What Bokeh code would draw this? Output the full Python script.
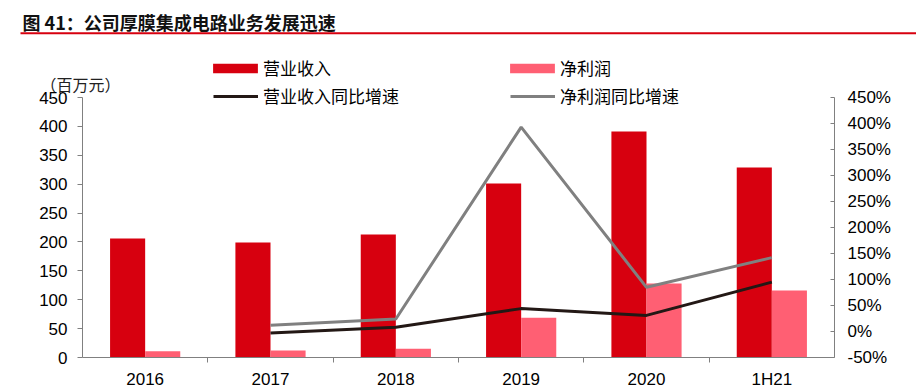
import numpy as np
from bokeh.plotting import figure
from bokeh.models import (Range1d, LinearAxis, FixedTicker, PrintfTickFormatter,
                          Legend, LegendItem, ColumnDataSource)
from bokeh.transform import dodge
from bokeh.embed import file_html
from bokeh.resources import INLINE
from bokeh.core.properties import value

# ---------------- data ----------------
categories = ["2016", "2017", "2018", "2019", "2020", "1H21"]
revenue = [206, 199, 213, 301, 391, 329]          # 营业收入 (百万元)
net_profit = [11, 12, 15, 69, 128, 116]           # 净利润 (百万元)
revenue_yoy = [np.nan, -3, 8, 44, 31, 95]         # 营业收入同比增速 (%)
profit_yoy = [np.nan, 12, 24, 393, 85, 142]       # 净利润同比增速 (%)
left_ticks = [0, 50, 100, 150, 200, 250, 300, 350, 400, 450]
right_ticks = [-50, 0, 50, 100, 150, 200, 250, 300, 350, 400, 450]
title_text = "图 41：公司厚膜集成电路业务发展迅速"
unit_text = "（百万元）"
legend_labels = ["营业收入", "净利润", "营业收入同比增速", "净利润同比增速"]

# ---------------- styling / layout (pixels on the canvas) ----------------
RED = "#D7000F"
PINK = "#FF5F73"
BLACK = "#231815"
GRAY = "#808080"
AXIS = "#808080"
W, H = 916, 392
PL, PR = 82, 834          # plot area left / right (canvas px)
PT, PB = 97, 357          # plot area top / bottom (canvas px)
L_MIN, L_MAX = 0, 450
R_MIN, R_MAX = -50, 450
n = len(categories)

kx = (PR - PL) / n
ky = (PB - PT) / (L_MAX - L_MIN)
kr = (PB - PT) / (R_MAX - R_MIN)
x_range = Range1d(-PL / kx, n + (W - PR) / kx)
y_range = Range1d(L_MIN - (H - PB) / ky, L_MAX + PT / ky)
r_range = Range1d(R_MIN - (H - PB) / kr, R_MAX + PT / kr)


def X(px):
    return x_range.start + px / kx


def Y(py):
    return y_range.end - py / ky


p = figure(width=W, height=H, x_range=x_range, y_range=y_range,
           output_backend="svg", toolbar_location=None, min_border=0,
           x_axis_location=None, y_axis_location=None)
p.extra_y_ranges = {"pct": r_range}
p.grid.visible = False
p.outline_line_color = None

xc = np.arange(n) + 0.5
src = ColumnDataSource(dict(x=xc, cat=categories, rev=revenue, np_=net_profit,
                            ry=revenue_yoy, py=profit_yoy))

r_rev = p.vbar(x=dodge("x", -0.14), top="rev", width=0.28, source=src,
               fill_color=RED, line_color=None)
r_np = p.vbar(x=dodge("x", 0.14), top="np_", width=0.28, source=src,
              fill_color=PINK, line_color=None)
r_ry = p.line(x="x", y="ry", source=src, y_range_name="pct", line_color=BLACK, line_width=3)
r_py = p.line(x="x", y="py", source=src, y_range_name="pct", line_color=GRAY, line_width=3)

font_num = "Liberation Sans"
left = LinearAxis(ticker=FixedTicker(ticks=left_ticks), fixed_location=0, bounds=(L_MIN, L_MAX),
                  axis_line_color=AXIS, major_tick_line_color=AXIS, major_tick_out=5,
                  major_tick_in=0, minor_tick_line_color=None, major_label_standoff=10,
                  major_label_text_font=font_num, major_label_text_font_size="17px",
                  major_label_text_color="#000000")
p.add_layout(left, "left")

right = LinearAxis(y_range_name="pct", ticker=FixedTicker(ticks=right_ticks), fixed_location=n,
                   bounds=(R_MIN, R_MAX), formatter=PrintfTickFormatter(format="%d%%"),
                   axis_line_color=AXIS, major_tick_line_color=AXIS, major_tick_out=0,
                   major_tick_in=4, minor_tick_line_color=None, major_label_standoff=13,
                   major_label_text_font=font_num, major_label_text_font_size="17px",
                   major_label_text_color="#000000")
p.add_layout(right, "right")

bottom = LinearAxis(ticker=FixedTicker(ticks=list(xc), minor_ticks=list(range(1, n))),
                    fixed_location=L_MIN, bounds=(0, n),
                    major_label_overrides={float(x): c for x, c in zip(xc, categories)},
                    axis_line_color=AXIS, major_tick_out=0, major_tick_in=0,
                    minor_tick_line_color=AXIS, minor_tick_out=5, minor_tick_in=0,
                    major_label_standoff=7, major_label_text_font=font_num,
                    major_label_text_font_size="17px", major_label_text_color="#000000")
p.add_layout(bottom, "below")

# title and red rule
p.text(x=[X(22)], y=[Y(21)], text=[title_text], text_font=value("Noto Sans CJK SC"),
       text_font_size="18px", text_font_style="bold", text_baseline="middle",
       text_color="#111111")
p.segment(x0=[X(20)], y0=[Y(32.7)], x1=[X(W)], y1=[Y(32.7)], line_color=RED, line_width=2)

# unit label
p.text(x=[X(40)], y=[Y(83)], text=[unit_text], text_font=value("Noto Sans CJK SC"),
       text_font_size="16px", text_baseline="middle", text_color="#222222")


def add_legend(label, renderer, x, y, gw, gh, standoff):
    lg = Legend(items=[LegendItem(label=label, renderers=[renderer])], location=(x, y),
                glyph_width=gw, glyph_height=gh, label_standoff=standoff,
                label_text_font="Noto Sans CJK SC", label_text_font_size="17px",
                label_text_color="#000000", label_height=20, padding=0, margin=0,
                spacing=0, border_line_color=None, background_fill_alpha=0)
    p.add_layout(lg, "center")


add_legend(legend_labels[0], r_rev, 207, 312, 56, 12, 0)
add_legend(legend_labels[1], r_np, 504, 312, 56, 12, 0)
add_legend(legend_labels[2], r_ry, 213, 284, 45, 12, 5)
add_legend(legend_labels[3], r_py, 510, 284, 45, 12, 5)

open("out.html", "w").write(file_html(p, INLINE))
